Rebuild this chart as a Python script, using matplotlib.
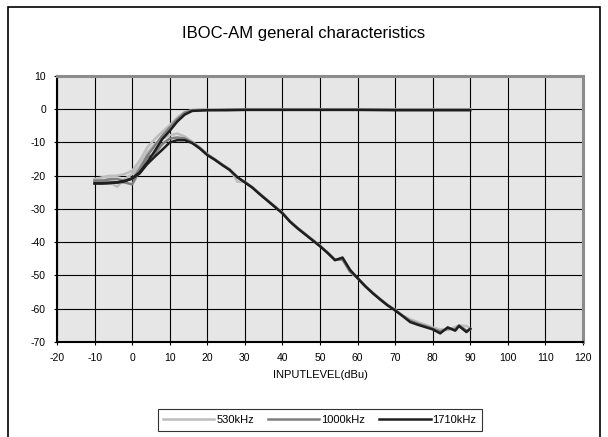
import matplotlib
matplotlib.use('Agg')
import matplotlib.pyplot as plt
from matplotlib.patches import Rectangle

plt.rcParams['font.family'] = ['Liberation Sans', 'DejaVu Sans']
plt.rcParams['axes.unicode_minus'] = False

# ---- data ----
# upper branch (saturating output)
x_up = [-10, -8, -6, -4, -2, 0, 2, 4, 6, 8, 10, 12, 14, 16, 18, 20, 22, 25, 30, 40, 50, 60, 70, 80, 90]
y_up_530 = [-21.0, -20.5, -20.0, -20.0, -19.5, -18.5, -15.5, -11.5, -9.0, -6.8, -4.8, -2.5, -0.8, -0.3, -0.2,
            -0.2, -0.1, 0.0, 0.0, 0.0, 0.0, 0.0, 0.0, 0.0, 0.0]
y_up_1000 = [-21.5, -21.5, -21.0, -21.0, -21.5, -21.0, -18.0, -14.0, -11.0, -8.0, -5.5, -3.0, -1.0, -0.3, -0.2,
             -0.2, -0.2, -0.1, -0.1, -0.1, -0.1, -0.1, -0.1, -0.1, -0.1]
y_up_1710 = [-22.3, -22.3, -22.2, -22.0, -21.6, -20.8, -19.0, -16.0, -12.6, -9.0, -6.5, -3.7, -1.6, -0.5, -0.4,
             -0.3, -0.3, -0.3, -0.2, -0.2, -0.2, -0.2, -0.3, -0.3, -0.3]

# lower branch (in-band output falling off)
x_lo = [-10, -8, -6, -4, -2, 0, 2, 4, 6, 8, 10, 12, 14, 16, 18, 20, 22, 24, 26, 28, 30, 32, 34, 36, 38, 40,
        42, 44, 46, 48, 50, 52, 54, 56, 58, 60, 62, 64, 66, 68, 70, 72, 74, 76, 78, 80, 82, 84, 86, 87, 89, 90]
y_lo_530 = [-21.0, -21.5, -22.0, -23.3, -21.0, -19.5, -17.0, -13.0, -10.5, -8.8, -7.8, -7.3, -8.2, -9.8, -11.5,
            -13.5, -15.0, -16.6, -18.0, -21.8, -21.8, -23.4, -25.4, -27.3, -29.2, -31.1, -33.6, -35.6, -37.4,
            -39.2, -41.0, -43.0, -45.2, -45.0, -49.0, -50.8, -53.0, -55.1, -57.0, -58.8, -60.3, -62.0, -63.2,
            -64.0, -64.8, -65.6, -66.2, -66.4, -65.5, -65.0, -65.2, -66.0]
y_lo_1000 = [-21.5, -21.5, -21.8, -22.0, -22.0, -22.6, -18.5, -14.5, -13.5, -10.5, -8.8, -8.5, -8.8, -10.0,
             -11.6, -13.6, -15.1, -16.7, -18.2, -20.5, -21.9, -23.5, -25.5, -27.4, -29.3, -31.2, -33.7, -35.7,
             -37.5, -39.3, -41.1, -43.1, -45.3, -45.2, -48.8, -50.7, -53.1, -55.2, -57.1, -58.9, -60.4, -62.1,
             -63.6, -64.5, -65.2, -66.0, -66.8, -66.0, -66.2, -65.0, -66.6, -66.2]
y_lo_1710 = [-22.3, -22.3, -22.2, -22.0, -21.6, -20.8, -19.3, -16.5, -14.3, -12.2, -10.0, -9.3, -9.3, -10.2,
             -11.8, -13.8, -15.2, -16.8, -18.3, -20.4, -22.0, -23.6, -25.6, -27.5, -29.4, -31.3, -33.8, -35.8,
             -37.6, -39.4, -41.2, -43.2, -45.4, -44.6, -48.3, -50.8, -53.2, -55.3, -57.2, -59.0, -60.5, -62.2,
             -64.0, -64.8, -65.5, -66.2, -67.4, -65.6, -66.6, -65.2, -67.0, -66.0]

series = [
    ('530kHz', '#bdbdbd', y_up_530, y_lo_530),
    ('1000kHz', '#7f7f7f', y_up_1000, y_lo_1000),
    ('1710kHz', '#1e1e1e', y_up_1710, y_lo_1710),
]

fig = plt.figure(figsize=(6.08, 4.37), dpi=100)
ax = fig.add_axes([0.0938, 0.2174, 0.865, 0.6087])
ax.set_facecolor('#e6e6e6')

for name, col, yu, yl in series:
    ax.plot(x_up, yu, color=col, lw=1.8, label=name, solid_joinstyle='round')
    ax.plot(x_lo, yl, color=col, lw=1.8, solid_joinstyle='round')

ax.set_xlim(-20, 120)
ax.set_ylim(-70, 10)
ax.set_xticks(range(-20, 121, 10))
ax.set_yticks(range(-70, 11, 10))
ax.grid(True, color='black', lw=0.8)
ax.set_axisbelow(True)
ax.tick_params(labelsize=7.5, length=2, width=0.8, pad=6)

for s in ('top', 'right'):
    ax.spines[s].set_color('#8c8c8c')
    ax.spines[s].set_linewidth(2.2)
for s in ('left', 'bottom'):
    ax.spines[s].set_color('black')
    ax.spines[s].set_linewidth(1.5)

ax.set_xlabel('INPUTLEVEL(dBu)', fontsize=8, labelpad=5)
fig.text(0.5, 0.924, 'IBOC-AM general characteristics', ha='center', va='center', fontsize=12)

leg = fig.legend(loc='center', bbox_to_anchor=(0.526, 0.039), ncol=3, fontsize=8,
                 frameon=True, fancybox=False, handlelength=4.6, handletextpad=0.15,
                 columnspacing=1.3, borderpad=0.5)
leg.get_frame().set_edgecolor('black')
leg.get_frame().set_linewidth(0.8)

# outer chart border
fig.patches.append(Rectangle((8 / 608, -0.1), 592 / 608, 1.1 - 7 / 437, transform=fig.transFigure,
                             fill=False, edgecolor='black', lw=1.2))

fig.savefig('out.png', dpi=100)
